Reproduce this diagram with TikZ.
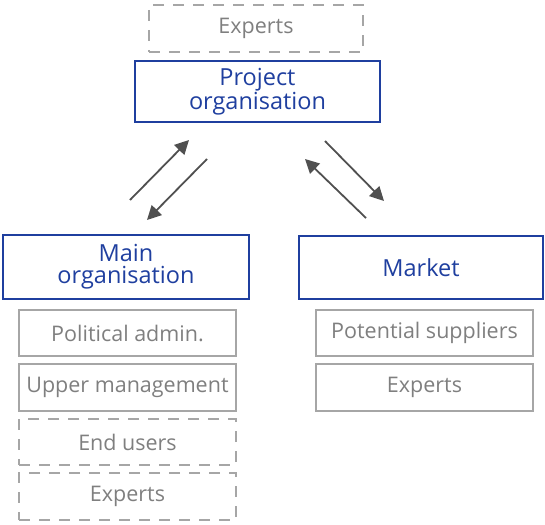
\documentclass[tikz,border=0pt]{standalone}
\usepackage{fontspec}
\setmainfont{Open Sans}
\usetikzlibrary{arrows.meta}
\definecolor{blu}{HTML}{1F3F9F}
\definecolor{gline}{HTML}{A6A6A6}
\definecolor{gtext}{HTML}{7F7F7F}
\definecolor{arr}{HTML}{505050}
\begin{document}
\begin{tikzpicture}[x=1pt,y=-1pt,
  mainbox/.style={draw=blu,line width=2pt,text=blu,font=\fontsize{23.5}{22}\selectfont,align=center,inner sep=0pt},
  subbox/.style={draw=gline,line width=2pt,text=gtext,font=\fontsize{21.5}{21.5}\selectfont,inner sep=0pt},
  dashbox/.style={subbox,dash pattern=on 11pt off 9pt},
  flow/.style={draw=arr,line width=1.8pt,-{Triangle[length=14pt,width=14pt]}}]
\useasboundingbox (0,0) rectangle (545,524);
\node[dashbox,minimum width=214,minimum height=47] (ex1) at (256,28.5) {Experts};
\node[mainbox,minimum width=245,minimum height=61] (proj) at (257.5,91.5) {Project\\organisation};
\node[mainbox,minimum width=246,minimum height=64] (main) at (126,267) {Main\\organisation};
\node[mainbox,minimum width=244,minimum height=63] (mkt) at (421,267.5) {Market};
\node[subbox,minimum width=217,minimum height=46] (pol) at (127.5,333) {Political admin.};
\node[subbox,minimum width=217,minimum height=47] (upm) at (127.5,387.5) {Upper management};
\node[dashbox,minimum width=217,minimum height=46] (end) at (127.5,442) {End users};
\node[dashbox,minimum width=217,minimum height=47] (ex2) at (127.5,496.5) {Experts};
\node[subbox,minimum width=217,minimum height=46] (pot) at (424.5,333) {Potential suppliers};
\node[subbox,minimum width=217,minimum height=47] (ex3) at (424.5,387.5) {Experts};
\coordinate (a1s) at (130,200); \coordinate (a1e) at (189,140);
\coordinate (a2s) at (207,159); \coordinate (a2e) at (147,220);
\coordinate (a3s) at (366,218); \coordinate (a3e) at (305,159);
\coordinate (a4s) at (325,141); \coordinate (a4e) at (384,201);
\draw[flow] (a1s) -- (a1e);
\draw[flow] (a2s) -- (a2e);
\draw[flow] (a3s) -- (a3e);
\draw[flow] (a4s) -- (a4e);
\end{tikzpicture}
\end{document}
